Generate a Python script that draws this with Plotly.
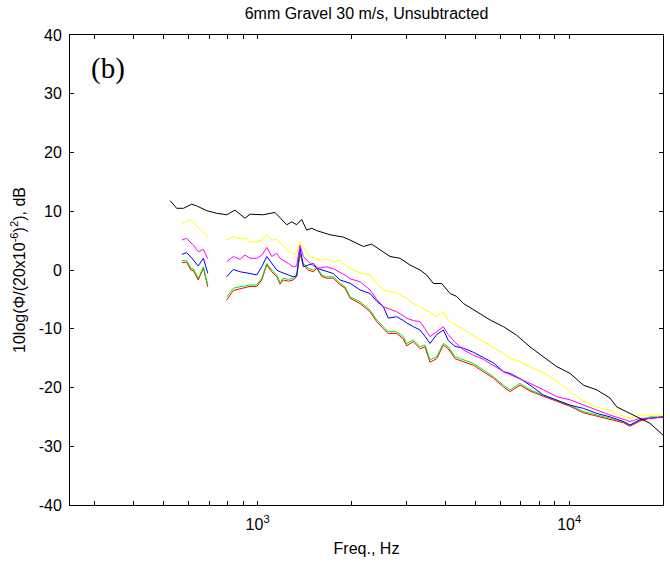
import plotly.graph_objects as go

# ---------------- data ----------------
black_f = [524, 550, 578, 615, 638, 687, 739, 796, 846, 911, 946, 1043, 1137, 1240, 1287, 1335,
           1385, 1437, 1492, 1548, 1708, 1884, 1980, 2184, 2323, 2532, 2660, 2864, 3084, 3321,
           3489, 3665, 3898, 4145, 4356, 4576, 5050, 5574, 6151, 6785, 7488, 8265, 9120, 10064,
           11105, 12255, 13525, 14210, 15675, 16466, 18170, 20000]
black_db = [11.8, 10.5, 10.5, 11.2, 10.9, 10.1, 9.65, 9.4, 10.2, 8.8, 9.5, 9.4, 9.8, 7.7, 8.2, 7.7,
            8.6, 6.8, 7.1, 6.7, 6.0, 5.6, 5.1, 4.0, 4.4, 3.1, 2.3, 2.0, 0.85, 0.0,
            -0.85, -2.3, -2.3, -4.0, -4.5, -5.7, -7.1, -8.5, -9.65, -11.1, -13.1, -14.75, -16.45, -17.6,
            -19.6, -20.4, -21.8, -23.3, -24.4, -25.0, -26.1, -28.1]

# first (low-frequency) segment, shared frequency points for the coloured series
seg1_f = [571, 592, 611, 622, 645, 670, 692]
# second segment frequency points
seg2_f = [796, 836, 878, 911, 946, 994, 1031, 1070, 1110, 1152, 1180, 1209, 1256, 1302, 1335,
          1368, 1403, 1455, 1511, 1548, 1606, 1667, 1750, 1839, 1908, 1980, 2132, 2295, 2412,
          2532, 2627, 2794, 2936, 3008, 3161, 3321, 3446, 3575, 3756, 3947, 4093, 4301, 4576,
          4924, 5302, 5709, 6151, 6457, 6955, 7488, 8265, 9120, 10064, 11105, 12255, 13525,
          14929, 15675, 16877, 18170, 20000]

yellow_db1 = [7.7, 8.3, 8.5, 8.2, 7.1, 6.5, 5.6]
yellow_db2 = [5.1, 5.7, 5.3, 5.4, 4.7, 4.8, 5.1, 6.0, 5.1, 5.2, 4.6, 4.2, 3.1, 2.7, 2.9,
              4.8, 4.0, 2.5, 2.1, 1.8, 1.7, 1.9, 1.4, 1.7, 0.9, 0.3, -0.5, -0.85, -2.2,
              -3.4, -3.6, -3.9, -4.55, -4.8, -5.7, -6.2, -6.8, -7.2, -7.95, -7.1, -8.6, -9.3, -10.2,
              -11.2, -12.2, -13.2, -14.2, -15.0, -15.6, -16.5, -17.5, -18.9, -20.6, -22.3, -23.3, -23.9,
              -24.9, -25.25, -24.7, -24.7, -24.7]

magenta_db1 = [5.1, 5.4, 4.6, 4.25, 3.1, 3.5, 1.9]
magenta_db2 = [1.4, 2.3, 1.8, 2.55, 2.0, 2.0, 2.5, 3.85, 2.3, 2.85, 2.0, 1.7, 1.1, 0.55, 0.7,
               4.25, 2.3, 1.4, 0.7, 0.3, 0.4, 0.55, 0.2, -0.4, -0.85, -1.5, -2.0, -3.4, -5.0,
               -6.25, -6.6, -7.1, -7.8, -8.2, -8.6, -8.8, -10.0, -11.35, -10.5, -9.65, -11.0, -12.3, -13.6,
               -14.5, -15.2, -16.2, -17.3, -17.8, -18.5, -19.3, -20.4, -21.55, -22.1, -23.0, -23.8, -24.7,
               -25.4, -25.8, -25.25, -25.25, -25.0]

blue_db1 = [2.65, 2.95, 2.2, 1.7, 0.7, 2.0, -0.55]
blue_db2 = [-1.15, 0.1, -0.3, -0.4, -0.6, -0.85, 0.55, 2.3, 1.1, 0.0, -0.3, -0.55, -0.85, -1.15, -1.0,
            3.85, 0.55, 0.85, 1.1, 0.3, 0.0, -0.3, -0.6, -1.7, -2.0, -2.25, -3.4, -4.0, -5.3,
            -6.25, -8.2, -7.95, -8.6, -9.0, -9.65, -10.2, -11.3, -12.5, -11.0, -10.2, -12.0, -13.0, -13.3,
            -14.0, -14.9, -15.8, -17.3, -17.6, -18.5, -19.6, -21.3, -22.1, -23.0, -23.55, -24.4, -25.0,
            -25.8, -26.4, -25.5, -25.25, -25.0]

green_db1 = [1.6, 1.6, 0.3, 0.2, -1.4, 0.55, -2.55]
green_db2 = [-4.55, -3.1, -2.85, -2.7, -2.55, -2.55, -1.4, 1.1, 0.0, -0.85, -2.15, -1.4, -1.6, -1.4, -0.85,
             2.95, 1.1, 0.3, 0.0, 0.55, -0.85, -1.15, -1.15, -2.25, -2.85, -4.55, -5.4, -6.8, -8.5,
             -9.65, -10.5, -10.5, -11.35, -12.5, -11.9, -13.05, -12.75, -15.3, -14.75, -12.5, -13.05, -14.75, -15.3,
             -15.9, -17.0, -18.15, -19.6, -20.4, -19.3, -20.4, -21.3, -22.1, -23.0, -24.1, -24.7, -25.25,
             -25.8, -26.4, -25.5, -25.0, -25.0]

red_db1 = [1.3, 1.3, 0.0, -0.1, -1.7, 0.3, -2.85]
red_db2 = [-5.1, -3.5, -3.2, -3.0, -2.8, -2.8, -1.7, 0.9, -0.3, -1.1, -2.4, -1.7, -1.9, -1.7, -1.1,
           2.7, 0.8, 0.0, -0.3, 0.3, -1.1, -1.4, -1.4, -2.5, -3.1, -4.8, -5.7, -7.1, -8.8,
           -10.0, -10.8, -10.8, -11.7, -12.9, -12.2, -13.4, -13.1, -15.7, -15.1, -12.8, -13.4, -15.1, -15.6,
           -16.2, -17.3, -18.4, -19.9, -20.7, -19.6, -20.6, -21.5, -22.3, -23.2, -24.3, -24.9, -25.4,
           -26.0, -26.6, -25.7, -25.2, -25.1]

title_text = "6mm Gravel 30 m/s, Unsubtracted"
x_title = "Freq., Hz"
y_title = "10log(\u03a6/(20x10<sup>-6</sup>)<sup>2</sup>), dB"
panel_label = "(b)"

x_major = [1000, 10000]
x_major_text = ["10<sup>3</sup>", "10<sup>4</sup>"]
x_minor = [300, 400, 500, 600, 700, 800, 900, 2000, 3000, 4000, 5000, 6000, 7000, 8000, 9000]
y_ticks = [-40, -30, -20, -10, 0, 10, 20, 30, 40]
y_ticktext = ["-40", "-30", "-20", "-10", "0", "10", "20", "30", "40"]

# ---------------- figure ----------------
fig = go.Figure()

colored = [
    ("red", "#ff0000", red_db1, red_db2),
    ("green", "#00ee00", green_db1, green_db2),
    ("blue", "#0000ff", blue_db1, blue_db2),
    ("magenta", "#ff00ff", magenta_db1, magenta_db2),
    ("yellow", "#ffff00", yellow_db1, yellow_db2),
]
for name, col, d1, d2 in colored:
    fig.add_trace(go.Scatter(x=seg1_f + [None] + seg2_f, y=d1 + [None] + d2,
                             mode="lines", name=name, connectgaps=False,
                             line=dict(color=col, width=1)))
fig.add_trace(go.Scatter(x=black_f, y=black_db, mode="lines", name="black",
                         line=dict(color="#000000", width=1)))

tickvals = sorted(x_major + x_minor)
ticktext = [x_major_text[x_major.index(v)] if v in x_major else "" for v in tickvals]

font_family = "Liberation Sans, Arial, sans-serif"
fig.update_layout(
    width=670, height=571,
    margin=dict(l=70, r=7, t=35, b=66),
    paper_bgcolor="white", plot_bgcolor="white",
    showlegend=False,
    font=dict(family=font_family, size=16, color="black"),
    title=dict(text=title_text, x=0.5, xref="paper", xanchor="center",
               y=1 - 13 / 571, yref="container", yanchor="middle",
               font=dict(size=16, family=font_family, color="black")),
    xaxis=dict(type="log", range=[2.39794, 4.30103],
               tickvals=tickvals, ticktext=ticktext,
               ticks="inside", ticklen=4, tickcolor="black", tickwidth=1,
               showline=True, linecolor="black", linewidth=1, mirror="allticks",
               showgrid=False, zeroline=False,
               ticklabelstandoff=5,
               tickfont=dict(size=16),
               title=dict(text=x_title, standoff=10, font=dict(size=16))),
    yaxis=dict(range=[-40, 40], tickvals=y_ticks, ticktext=y_ticktext,
               ticks="inside", ticklen=4, tickcolor="black", tickwidth=1,
               showline=True, linecolor="black", linewidth=1, mirror="allticks",
               showgrid=False, zeroline=False,
               ticklabelstandoff=4,
               tickfont=dict(size=16),
               title=dict(text=y_title, standoff=9, font=dict(size=16))),
    annotations=[dict(text=panel_label, xref="paper", yref="paper",
                      x=(108 - 70) / 593, y=(505 - 68) / 470,
                      xanchor="center", yanchor="middle", showarrow=False,
                      font=dict(family="Liberation Serif, Times New Roman, serif",
                                size=29, color="black"))],
)

fig.write_html("out.html")
